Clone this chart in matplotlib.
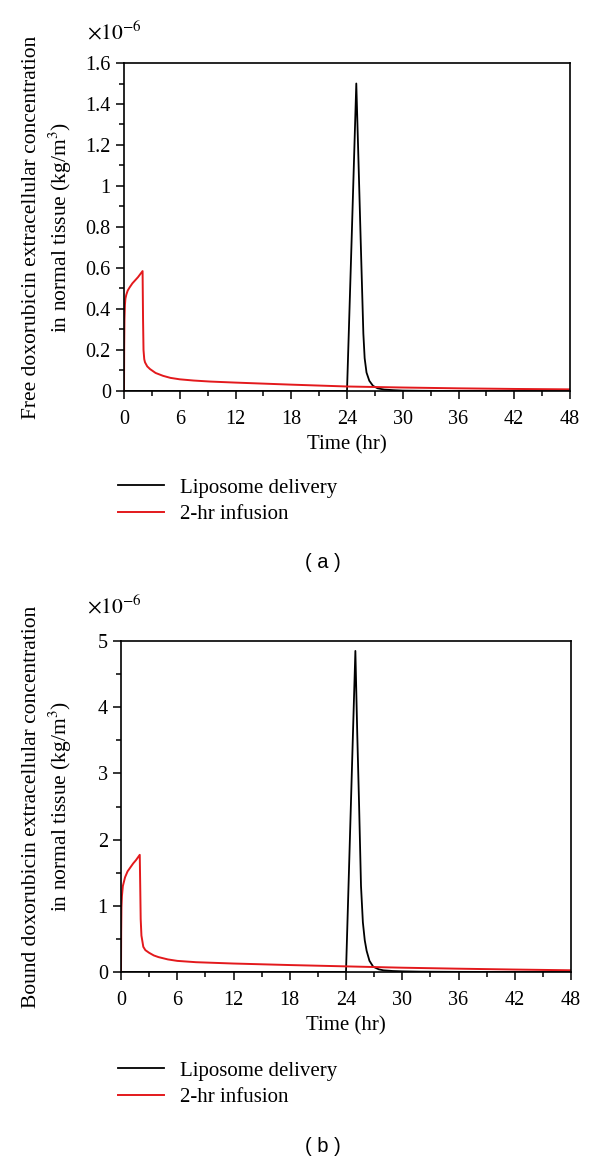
import matplotlib
matplotlib.use("Agg")
import matplotlib.pyplot as plt
from matplotlib.ticker import MultipleLocator, FormatStrFormatter

plt.rcParams["font.family"] = ["Liberation Serif", "DejaVu Serif"]
plt.rcParams["mathtext.fontset"] = "stix"

RED = "#e3191c"

# (a) free doxorubicin, units of 1e-6 kg/m^3
free_lipo_t = [0, 24.0, 24.25, 24.5, 24.75, 25.0, 25.2, 25.47, 25.76, 25.9, 26.1,
               26.4, 26.8, 27.3, 28, 29, 30, 32, 35, 48]
free_lipo_v = [0, 0, 0.37, 0.74, 1.12, 1.50, 1.18, 0.74, 0.28, 0.16, 0.09,
               0.05, 0.025, 0.013, 0.007, 0.004, 0.002, 0.001, 0.0003, 0]
free_inf_t = [0, 0.02, 0.05, 0.1, 0.15, 0.25, 0.4, 0.6, 0.9, 1.2, 1.5, 1.75, 2.0,
              2.05, 2.1, 2.18, 2.26, 2.5, 2.8, 3.4, 4.2, 5.0, 6.0, 7.5, 9.3, 12,
              18, 24, 30, 36, 42, 48]
free_inf_v = [0, 0.22, 0.35, 0.42, 0.45, 0.47, 0.49, 0.505, 0.525, 0.54, 0.555,
              0.57, 0.585, 0.35, 0.2, 0.155, 0.14, 0.12, 0.107, 0.088, 0.074,
              0.064, 0.057, 0.051, 0.046, 0.041, 0.031, 0.022, 0.017, 0.013,
              0.01, 0.008]

# (b) bound doxorubicin, units of 1e-6 kg/m^3
bound_lipo_t = [0, 24.0, 24.25, 24.5, 24.75, 25.0, 25.2, 25.4, 25.6, 25.8, 26.0,
                26.2, 26.5, 26.9, 27.5, 28, 29, 30, 32, 36, 48]
bound_lipo_v = [0, 0, 1.21, 2.42, 3.64, 4.85, 3.6, 2.5, 1.3, 0.75, 0.48,
                0.32, 0.17, 0.08, 0.04, 0.025, 0.015, 0.01, 0.005, 0.002, 0]
bound_inf_t = [0, 0.02, 0.05, 0.1, 0.2, 0.43, 0.7, 1.0, 1.3, 1.6, 2.0, 2.05, 2.1,
               2.18, 2.38, 2.6, 3.0, 3.5, 4.0, 5.0, 6.0, 8, 12, 18, 24, 30, 36,
               42, 48]
bound_inf_v = [0, 0.6, 0.98, 1.15, 1.3, 1.43, 1.52, 1.58, 1.64, 1.69, 1.77, 1.3,
               0.8, 0.55, 0.38, 0.33, 0.29, 0.25, 0.225, 0.19, 0.168, 0.148,
               0.128, 0.105, 0.085, 0.065, 0.05, 0.037, 0.026]

x_ticks = [0, 6, 12, 18, 24, 30, 36, 42, 48]

panels = [
    {
        "rect": [124 / 600, 1 - 391 / 1162, 446 / 600, 328 / 1162],
        "lipo": (free_lipo_t, free_lipo_v),
        "inf": (free_inf_t, free_inf_v),
        "ylim": 1.6, "major": 0.2, "minor": 0.1,
        "ylabel": "Free doxorubicin extracellular concentration\n"
                  "in normal tissue (kg/m$^3$)",
        "tag": "( a )", "tag_y": 562, "exp_y": 33, "leg_y": 478,
    },
    {
        "rect": [121 / 600, 1 - 972 / 1162, 450 / 600, 331 / 1162],
        "lipo": (bound_lipo_t, bound_lipo_v),
        "inf": (bound_inf_t, bound_inf_v),
        "ylim": 5, "major": 1, "minor": 0.5,
        "ylabel": "Bound doxorubicin extracellular concentration\n"
                  "in normal tissue (kg/m$^3$)",
        "tag": "( b )", "tag_y": 1146, "exp_y": 607, "leg_y": 1061,
    },
]

fig = plt.figure(figsize=(6.0, 11.62), dpi=100)

for p in panels:
    ax = fig.add_axes(p["rect"])
    l1, = ax.plot(*p["lipo"], color="black", lw=1.3, label="Liposome delivery")
    l2, = ax.plot(*p["inf"], color=RED, lw=1.4, label="2-hr infusion")
    ax.set_xlim(0, 48)
    ax.set_ylim(0, p["ylim"])
    ax.set_xticks(x_ticks)
    ax.xaxis.set_minor_locator(MultipleLocator(3))
    ax.yaxis.set_major_locator(MultipleLocator(p["major"]))
    ax.yaxis.set_minor_locator(MultipleLocator(p["minor"]))
    ax.yaxis.set_major_formatter(FormatStrFormatter("%g"))
    ax.tick_params(which="both", direction="out", top=False, right=False,
                   labelsize=14.5, width=1.1)
    ax.tick_params(which="major", length=6)
    ax.tick_params(axis="x", which="major", pad=7.5)
    ax.tick_params(which="minor", length=3.5)
    for s in ax.spines.values():
        s.set_linewidth(1.2)
    ax.set_xlabel("Time (hr)", fontsize=15, labelpad=5)
    ax.set_ylabel(p["ylabel"], fontsize=15.5, linespacing=1.3)
    x_lab = (74 - p["rect"][0] * 600) / (p["rect"][2] * 600)
    ax.yaxis.set_label_coords(x_lab, 0.5)

    fig.text(87 / 600, 1 - p["exp_y"] / 1162, r"$\times10^{-6}$",
             fontsize=15.5, va="center", ha="left")
    ax.legend(handles=[l1, l2], loc="upper left",
              bbox_to_anchor=(118 / 600, 1 - p["leg_y"] / 1162),
              bbox_transform=fig.transFigure, frameon=False, fontsize=15,
              handlelength=2.2, handletextpad=0.8, labelspacing=0.35,
              borderpad=0, borderaxespad=0)
    fig.text(323 / 600, 1 - p["tag_y"] / 1162, p["tag"], fontsize=14.5,
             family=["Liberation Sans", "DejaVu Sans"], ha="center", va="center")

fig.savefig("out.png", dpi=100)
